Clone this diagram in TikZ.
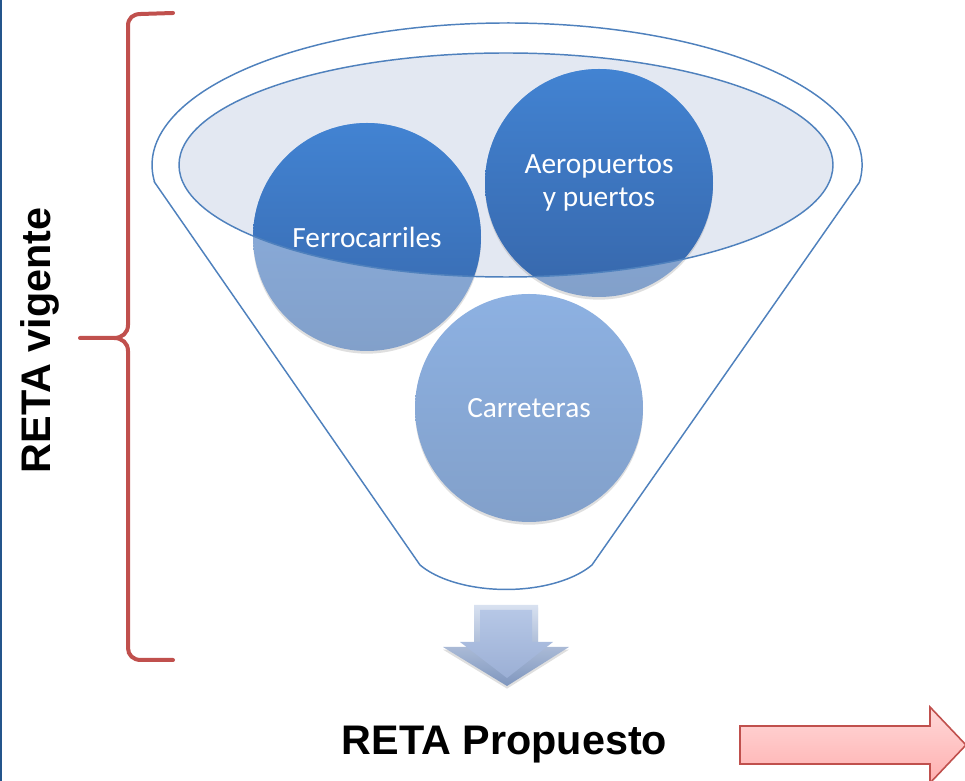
\documentclass[tikz,border=0pt]{standalone}
\usepackage{fontspec}
\setmainfont{Carlito}
\newfontfamily\arialfont{Liberation Sans Bold}
\usetikzlibrary{shadows}
\definecolor{funnelblue}{HTML}{4F81BD}
\definecolor{lidfill}{HTML}{E3E8F2}
\definecolor{darkball}{HTML}{4283D2}
\definecolor{darkballlow}{HTML}{3767AB}
\definecolor{lightball}{HTML}{8DB1E2}
\definecolor{lightballlow}{HTML}{82A0CA}
\definecolor{bracered}{HTML}{C0504D}
\definecolor{edgeblue}{HTML}{24558C}
\definecolor{pinktop}{HTML}{FFD8D8}
\definecolor{pinkbot}{HTML}{FFB0B0}
\definecolor{arrowtop}{HTML}{D8E1F0}
\definecolor{arrowbot}{HTML}{7F96BE}
\definecolor{facetop}{HTML}{B6C7E6}
\definecolor{facebot}{HTML}{9BAFD5}
\tikzset{
  funnel/.style={draw=funnelblue, line width=1.1pt},
  bola/.style={circle, minimum size=171pt, inner sep=0pt, text=white,
    align=center, font=\fontsize{22}{24.75}\selectfont},
  titulo/.style={font=\arialfont\fontsize{31}{36}\selectfont},
  sombra/.style={drop shadow={opacity=0.25, shadow xshift=0pt, shadow yshift=-2pt}}
}

\begin{document}
\begin{tikzpicture}[x=0.75pt,y=0.75pt]
\useasboundingbox (0,0) rectangle (965,781);
\newcommand\RR{114}

\coordinate (cF) at (367,544);
\coordinate (cA) at (599,598);
\coordinate (cC) at (529,373);
\coordinate (lid) at (506,616);

\draw[edgeblue, line width=1.6pt] (1,0) -- (1,781);

\draw[funnel, fill=white] (154.6,598.7) -- (420,216)
  arc[start angle=210.7, end angle=329.3, x radius=100, y radius=50]
  -- (859.4,598.7)
  arc[start angle=-7, end angle=187, x radius=355, y radius=142] -- cycle;
\fill[lidfill] (lid) ellipse [x radius=327, y radius=112];

\foreach \c in {cF,cA,cC}
  \path[sombra, top color=lightball, bottom color=lightballlow] (\c) circle [radius=\RR];

\begin{scope}
\clip (lid) ellipse [x radius=327, y radius=112];
\foreach \c in {cF,cA}
  \path[top color=darkball, bottom color=darkballlow] (\c) circle [radius=\RR];
\end{scope}
\draw[funnel] (lid) ellipse [x radius=327, y radius=112];

\node[bola] (ferro) at (cF) {Ferrocarriles};
\node[bola] (aero) at (cA) {Aeropuertos\\y puertos};
\node[bola] (carre) at (cC) {Carreteras};

\draw[bracered, line width=3pt, line cap=round]
  (173,768) -- (141,767) .. controls (133,767) and (128,763) .. (128,755)
  -- (128,456) .. controls (128,448) and (122,443) .. (114,443) -- (80,443)
  (114,443) .. controls (122,443) and (128,438) .. (128,430)
  -- (128,133) .. controls (128,126) and (133,121) .. (141,121) -- (173,121);

\node[titulo, rotate=90, anchor=base] (vigente) at (50,440.5) {RETA vigente};
\node[titulo, anchor=base] (propuesto) at (504.5,26) {RETA Propuesto};

\path[sombra, top color=arrowtop, bottom color=arrowbot]
  (474,176) -- (538,176) -- (538,134) -- (569,134) -- (507,95)
  -- (443,134) -- (474,134) -- cycle;
\path[top color=facetop, bottom color=facebot]
  (480,171) -- (532,171) -- (532,139) -- (553,139) -- (507,103)
  -- (460,139) -- (480,139) -- cycle;

\draw[bracered, line width=1.2pt, top color=pinktop, bottom color=pinkbot]
  (740,55) -- (930,55) -- (930,74) -- (966,36) -- (930,-2)
  -- (930,17) -- (740,17) -- cycle;
\end{tikzpicture}
\end{document}
